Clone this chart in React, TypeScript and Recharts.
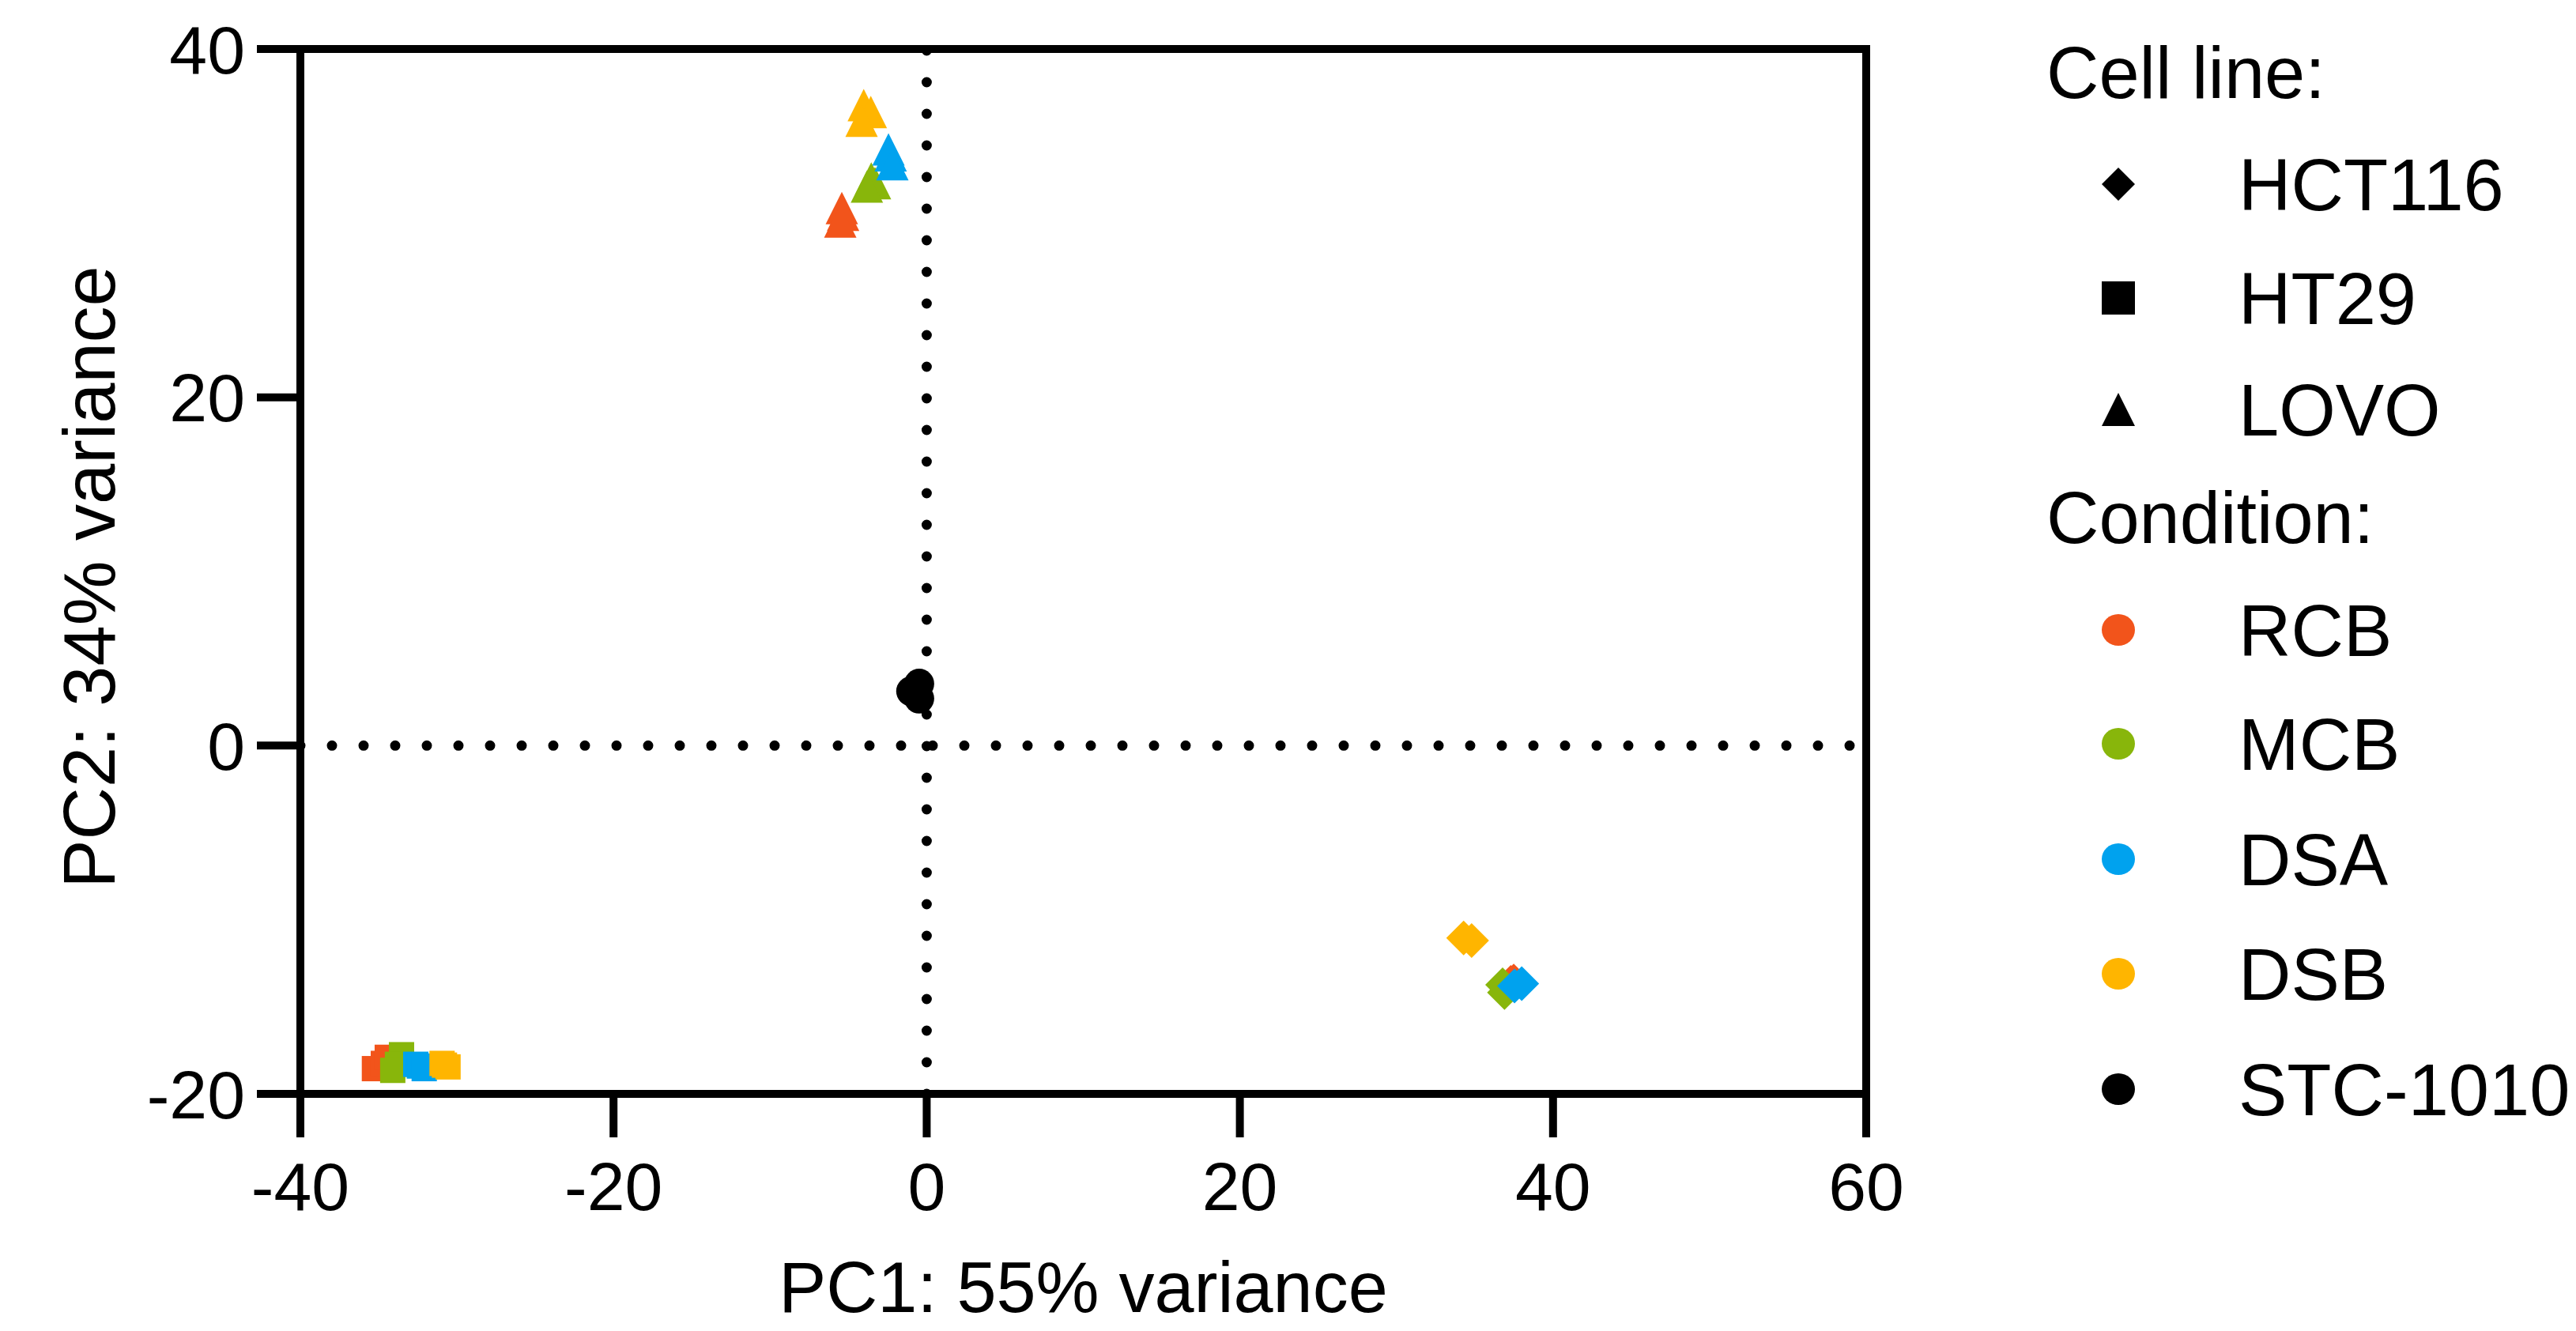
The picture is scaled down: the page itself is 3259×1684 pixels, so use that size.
import React from "react";
import { ScatterChart, Scatter, XAxis, YAxis, ReferenceLine, Label } from "recharts";

const FONT = "'Liberation Sans', Arial, sans-serif";

const conditionColors: Record<string, string> = {
  RCB: "#F2541B",
  MCB: "#88B60B",
  DSA: "#00A2EE",
  DSB: "#FFB500",
  "STC-1010": "#000000",
};

const xTicks = [-40, -20, 0, 20, 40, 60];
const yTicks = [-20, 0, 20, 40];

// cell line HCT116 (diamonds)
const hct116 = [
  { pc1: 37.49, pc2: -13.52, cond: "RCB" },
  { pc1: 37.3, pc2: -13.6, cond: "RCB" },
  { pc1: 36.78, pc2: -13.74, cond: "MCB" },
  { pc1: 36.9, pc2: -14.18, cond: "MCB" },
  { pc1: 37.54, pc2: -13.81, cond: "DSA" },
  { pc1: 38.0, pc2: -13.67, cond: "DSA" },
  { pc1: 34.29, pc2: -11.05, cond: "DSB" },
  { pc1: 34.8, pc2: -11.2, cond: "DSB" },
];

// cell line HT29 (squares)
const ht29 = [
  { pc1: -35.27, pc2: -18.55, cond: "RCB" },
  { pc1: -34.7, pc2: -18.25, cond: "RCB" },
  { pc1: -34.45, pc2: -17.9, cond: "RCB" },
  { pc1: -33.54, pc2: -17.75, cond: "MCB" },
  { pc1: -33.8, pc2: -18.3, cond: "MCB" },
  { pc1: -34.1, pc2: -18.65, cond: "MCB" },
  { pc1: -32.63, pc2: -18.3, cond: "DSA" },
  { pc1: -32.4, pc2: -18.4, cond: "DSA" },
  { pc1: -32.09, pc2: -18.55, cond: "DSA" },
  { pc1: -30.95, pc2: -18.25, cond: "DSB" },
  { pc1: -30.8, pc2: -18.35, cond: "DSB" },
  { pc1: -30.57, pc2: -18.45, cond: "DSB" },
];

// cell line LOVO (triangles)
const lovo = [
  { pc1: -5.42, pc2: 30.87, cond: "RCB" },
  { pc1: -5.34, pc2: 30.48, cond: "RCB" },
  { pc1: -5.52, pc2: 30.1, cond: "RCB" },
  { pc1: -3.54, pc2: 32.57, cond: "MCB" },
  { pc1: -3.3, pc2: 32.3, cond: "MCB" },
  { pc1: -3.82, pc2: 32.1, cond: "MCB" },
  { pc1: -2.44, pc2: 34.24, cond: "DSA" },
  { pc1: -2.3, pc2: 33.9, cond: "DSA" },
  { pc1: -2.19, pc2: 33.39, cond: "DSA" },
  { pc1: -4.02, pc2: 36.78, cond: "DSB" },
  { pc1: -3.57, pc2: 36.38, cond: "DSB" },
  { pc1: -4.16, pc2: 35.88, cond: "DSB" },
];

// STC-1010 (circles)
const stc1010 = [
  { pc1: -0.99, pc2: 3.12, cond: "STC-1010" },
  { pc1: -0.48, pc2: 3.55, cond: "STC-1010" },
  { pc1: -0.48, pc2: 2.7, cond: "STC-1010" },
];

const cellLines = ["HCT116", "HT29", "LOVO"];
const cellShapes = ["diamond", "square", "triangle"];
const legendConditions = ["RCB", "MCB", "DSA", "DSB", "STC-1010"];

const drawSymbol = (type: string, cx: number, cy: number, s: number, fill: string) => {
  const h = s / 2;
  if (type === "diamond")
    return <polygon points={`${cx},${cy - h} ${cx + h},${cy} ${cx},${cy + h} ${cx - h},${cy}`} fill={fill} />;
  if (type === "square") return <rect x={cx - h} y={cy - h} width={s} height={s} fill={fill} />;
  if (type === "triangle")
    return <polygon points={`${cx},${cy - h} ${cx + h},${cy + h} ${cx - h},${cy + h}`} fill={fill} />;
  return <circle cx={cx} cy={cy} r={h} fill={fill} />;
};

const makeShape = (type: string, size: number) => (props: any) =>
  drawSymbol(type, props.cx, props.cy, size, conditionColors[props.payload.cond]);

const W = 3251;
const H = 1676;

const Legend = () => {
  const symX = 2672;
  const textX = 2824;
  const headX = 2581;
  const rows = [83, 225, 369, 510, 646, 789, 933, 1079, 1224, 1370];
  const fs = 92;
  const base = (y: number) => y + fs * 0.358;
  return (
    <svg width={W} height={H} style={{ position: "absolute", left: 0, top: 0, pointerEvents: "none" }}>
      <g fontFamily={FONT} fontSize={fs} fill="#000">
        <text x={headX} y={base(rows[0])}>Cell line:</text>
        {cellLines.map((name, i) => (
          <g key={name}>
            {drawSymbol(cellShapes[i], symX, rows[i + 1], 42, "#000")}
            <text x={textX} y={base(rows[i + 1])}>{name}</text>
          </g>
        ))}
        <text x={headX} y={base(rows[4])}>Condition:</text>
        {legendConditions.map((c, i) => (
          <g key={c}>
            <ellipse cx={symX} cy={rows[i + 5]} rx={21} ry={20} fill={conditionColors[c]} />
            <text x={textX} y={base(rows[i + 5])}>{c}</text>
          </g>
        ))}
      </g>
    </svg>
  );
};

const YTitle = (props: any) => {
  const cy = 722;
  const x = 137;
  return (
    <text x={x} y={cy} transform={`rotate(-90 ${x} ${cy})`} textAnchor="middle" fontFamily={FONT} fontSize={92} fill="#000">
      PC2: 34% variance
    </text>
  );
};

const axisLine = { stroke: "#000", strokeWidth: 10 };

export default function App() {
  return (
    <div style={{ position: "relative", width: W, height: H }}>
      <ScatterChart width={W} height={H} margin={{ top: 54, right: 898, bottom: 0, left: 0 }}>
        <XAxis
          type="number"
          dataKey="pc1"
          domain={[-40, 60]}
          ticks={xTicks}
          height={300}
          tickSize={55}
          tickMargin={31}
          axisLine={axisLine}
          tickLine={axisLine}
          tick={{ fill: "#000", fontSize: 86, fontFamily: FONT }}
        >
          <Label value="PC1: 55% variance" position="insideBottom" offset={24} fill="#000" fontSize={90} fontFamily={FONT} />
        </XAxis>
        <YAxis
          type="number"
          dataKey="pc2"
          domain={[-20, 40]}
          ticks={yTicks}
          width={372}
          tickSize={55}
          tickMargin={15}
          axisLine={axisLine}
          tickLine={axisLine}
          tick={{ fill: "#000", fontSize: 86, fontFamily: FONT }}
        >
          <Label content={<YTitle />} />
        </YAxis>
        <ReferenceLine y={40} stroke="#000" strokeWidth={10} strokeLinecap="square" />
        <ReferenceLine x={60} stroke="#000" strokeWidth={10} strokeLinecap="square" />
        <ReferenceLine x={0} stroke="#000" strokeWidth={13} strokeDasharray="0 40" strokeLinecap="round" />
        <ReferenceLine y={0} stroke="#000" strokeWidth={13} strokeDasharray="0 40" strokeLinecap="round" />
        <Scatter name="HT29" data={ht29} shape={makeShape("square", 32)} isAnimationActive={false} />
        <Scatter name="LOVO" data={lovo} shape={makeShape("triangle", 41)} isAnimationActive={false} />
        <Scatter name="HCT116" data={hct116} shape={makeShape("diamond", 44)} isAnimationActive={false} />
        <Scatter name="STC-1010" data={stc1010} shape={makeShape("circle", 38)} isAnimationActive={false} />
      </ScatterChart>
      <Legend />
    </div>
  );
}
